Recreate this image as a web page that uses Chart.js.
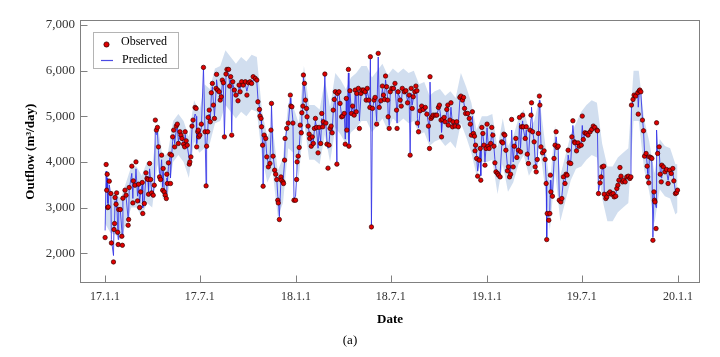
<!DOCTYPE html>
<html><head><meta charset="utf-8">
<script src="https://cdn.jsdelivr.net/npm/chart.js@4/dist/chart.umd.min.js"></script>
<style>html,body{margin:0;padding:0;background:#fff;}#wrap{width:720px;height:357px;position:relative;}</style>
</head><body><div id="wrap"><canvas id="c" width="720" height="357"></canvas></div>
<script>
// Days since 2017-01-01
const obsDays = [
0,2,3,4,5,6,8,11,12,16,17,18,19,21,22,24,25,26,29,32,33,34,38,40,44,45,46,51,53,54,
57,59,62,64,66,68,71,72,75,78,80,82,83,85,87,89,92,94,96,98,100,102,104,106,108,110,111,113,115,117,
118,119,121,124,125,127,129,131,133,136,138,140,143,145,147,150,152,153,155,157,161,162,164,166,168,172,174,175,177,178,179,
181,184,188,191,193,194,196,197,199,201,203,205,207,209,212,213,215,218,220,222,
224,226,228,231,233,236,238,240,242,244,247,250,254,256,258,261,264,268,271,274,
277,280,283,287,290,292,295,296,298,299,301,302,304,307,309,312,315,317,318,321,
324,326,328,330,331,333,336,337,340,341,343,344,347,350,354,355,357,359,361,364,
366,367,369,371,373,375,376,378,379,381,383,385,386,388,390,391,394,396,398,400,
402,404,407,409,412,414,416,417,420,422,424,426,428,430,432,434,436,438,440,443,
444,447,449,452,454,457,459,461,462,465,466,468,471,473,476,478,480,481,484,486,
489,491,494,497,499,501,504,506,507,509,511,514,516,519,522,524,527,530,532,534,
536,538,540,541,543,
545,548,551,554,557,558,560,564,566,568,572,575,578,581,583,585,587,589,592,594,
596,597,599,602,605,608,612,615,618,620,621,623,625,627,631,634,637,639,642,643,
645,648,650,653,655,656,659,661,664,665,669,672,675,678,680,683,685,687,689,693,
696,698,700,702,704,706,707,708,710,712,715,717,718,720,722,724,726,728,
730,732,734,737,739,741,743,745,747,750,752,755,758,760,762,764,766,769,771,773,
775,777,780,782,785,787,790,792,794,796,798,799,803,805,807,809,812,814,815,817,
820,822,824,826,828,830,831,833,836,839,841,843,844,845,848,850,851,852,855,858,
860,862,864,866,868,871,873,876,879,881,883,885,887,890,892,894,897,898,901,904,
906,910,912,914,917,920,923,927,930,933,936,940,941,943,946,948,950,953,954,957,
959,962,965,968,971,973,976,978,980,982,984,986,989,991,994,997,1000,1003,1005,1006,
1009,1011,1014,1018,1019,1021,1022,1024,1027,1029,1031,1034,1036,1037,1039,1040,1043,1045,1047,1049,
1050,1051,1053,1054,1056,1059,1061,1063,1064,1067,1070,1073,1076,1079,1082,1085,1087,1090,1092,1094
];
const observed = [
2344,3945,3382,3732,3002,3016,3579,3309,2226,1810,2520,2651,3221,3075,3323,2460,2191,2958,2958,2373,
2175,3206,3382,3272,2614,2739,3440,3908,3103,3586,3491,4002,3148,3513,3002,3345,3550,2871,3090,3762,
3638,3616,3294,3967,3616,3323,3272,3491,4917,4698,4757,4331,3673,3616,4149,3382,3857,3345,3272,3199,
3732,3528,3981,4171,3528,4149,4550,4698,4331,4786,4829,4406,4661,4588,4515,4390,4331,4661,4463,4368,
3952,4002,4112,4786,4917,5195,5173,4331,4661,4698,4550,
4588,4829,6072,4661,3476,4346,4661,4976,5136,4880,5516,5721,5246,4954,5612,5919,5575,5538,5355,5428,
5794,5735,4550,5926,6028,6028,5662,5868,4588,5757,5575,5465,5340,5684,5538,5757,5684,5757,5465,5735,
5757,5721,5868,5831,5794,5318,5151,5005,4954,4771,4368,3469,4588,4515,4112,3893,3967,4698,5283,4127,
3820,3732,3616,3162,3103,2739,3673,3601,3564,3528,4040,4515,4735,4852,5465,5224,5209,4852,3162,3162,
3616,4002,4127,4318,4807,4639,5078,5224,5904,5721,5355,5173,4989,4786,4610,4515,4346,4550,4406,4735,
4954,4757,4200,4757,4406,5063,4771,4880,5926,4852,4390,3865,4368,4735,4786,4639,5136,5370,5538,3952,
5502,5538,5283,4989,5005,5063,4390,5392,4698,6028,4346,5560,5063,5224,5026,5575,5099,5502,5612,4735,
5502,5575,5575,5538,5355,5612,5355,5195,6305,2577,5173,5355,5414,4829,6379,5195,5340,5662,5465,5370,
5882,5648,5355,4989,4735,
5538,5612,5612,5721,5136,4735,5538,5355,5224,5612,5538,5560,5296,5465,4149,5612,5173,5428,5538,5662,
5560,4852,4661,5122,5224,5151,5195,5048,4786,4296,5868,4954,4989,5026,5026,5026,5195,5246,4917,4550,
4932,4976,4880,5151,5246,4807,4917,5296,4771,4880,4786,4880,4771,5414,5443,5355,5414,5173,5063,5063,
4954,4829,4588,5099,4625,4566,4244,4368,4077,3689,4040,4296,3601,4757,4625,4368,3930,4296,
4829,4346,4296,4406,4757,4588,4346,3981,3784,3748,3711,3673,4441,4419,4610,4588,4258,3806,3893,3673,
3732,4932,3893,4346,4515,4099,4258,4976,4222,4771,5026,4771,4515,4771,4171,3967,4698,5026,5296,4661,
4441,3893,3784,4055,4625,5443,5246,4331,4200,4244,4055,3528,2300,2871,2724,2871,3711,3345,3250,4077,
4368,4661,4318,4346,3162,3125,3199,3673,3528,3732,3711,4258,3981,3967,4550,4902,4441,4419,4244,4419,
4346,4368,5005,4493,4639,4625,4588,4661,4713,4786,4757,4698,4683,3309,3543,3673,3893,3908,3294,3199,
3235,3309,3345,3294,3309,3235,3250,3418,3491,3601,3879,3689,3564,3601,3564,3673,3689,3638,3673,5246,
5370,5465,5443,5516,5048,5560,5575,5538,4917,4683,4127,4186,3908,3673,3543,4112,4099,4077,2285,3345,
3162,3125,2541,4858,4186,4331,3732,3564,3930,3893,3784,3835,3528,3820,3748,3857,3586,3309,3323,3382
];
const predicted = [
2500,3800,3400,3650,3100,3050,3500,3250,2300,1950,2600,2700,3150,3000,3250,2550,2300,2900,2950,2500,
2350,3150,3300,3250,2750,2800,3400,3750,3200,3550,3450,3850,3250,3500,3100,3350,3500,3000,3150,3700,
3600,3550,3350,3850,3600,3350,3300,3500,4700,4600,4650,4250,3750,3700,4050,3450,3800,3400,3350,3300,
3650,3550,3900,4100,3650,4100,4450,4600,4400,4700,4750,4450,4600,4550,4500,4400,4350,4600,4450,4350,
4050,4050,4150,4700,4850,5050,5000,4400,4600,4650,4550,
4600,4750,6060,4650,3500,4350,4650,4900,5050,4900,5450,5650,5300,5000,5550,5800,5600,5550,5400,5450,
5700,5700,4600,5850,5950,5950,5700,5800,4650,5700,5600,5500,5450,5650,5600,5700,5650,5700,5550,5700,
5700,5700,5800,5800,5750,5400,5200,5050,4950,4800,4400,3500,4550,4450,4150,3950,4000,4600,5250,4150,
3850,3750,3650,3250,3200,2800,3600,3600,3550,3550,4000,4450,4700,4800,5400,5250,5150,4900,3200,3250,
3650,3950,4100,4300,4700,4650,5000,5200,5850,5650,5400,5200,5000,4800,4650,4550,4400,4550,4450,4700,
4900,4750,4300,4700,4450,4950,4800,4850,5900,4850,4450,4300,4400,4700,4750,4650,5100,5300,5450,4000,
5450,5500,5300,5000,5050,5050,4500,5350,4750,5950,4400,5500,5100,5200,5050,5500,5150,5450,5550,4900,
5450,5550,5550,5500,5400,5550,5400,5250,6250,2600,5150,5350,5400,4900,6300,5200,5350,5600,5450,5400,
5800,5600,5400,5050,4800,
5500,5600,5600,5650,5200,4850,5500,5400,5300,5550,5500,5500,5350,5450,4200,5500,5250,5400,5500,5550,
5500,4950,4750,5100,5200,5150,5150,5050,4850,4450,5750,5000,5000,5000,5000,5050,5150,5200,4950,4650,
4900,4950,4900,5100,5200,4850,4900,5200,4800,4850,4800,4850,4800,5350,5400,5350,5350,5200,5100,5050,
4950,4850,4650,5000,4650,4550,4300,4350,4150,3800,4050,4250,3700,4650,4600,4400,4000,4300,
4750,4400,4300,4400,4650,4550,4350,4050,3850,3800,3750,3750,4350,4400,4550,4550,4300,3900,3900,3750,
3800,4700,4000,4300,4450,4150,4250,4850,4300,4700,4900,4750,4500,4700,4250,4050,4650,4950,5200,4700,
4450,4000,3850,4050,4550,5350,5200,4400,4250,4250,4050,3600,2350,2900,2800,2950,3600,3400,3300,4000,
4300,4550,4350,4300,3250,3200,3250,3600,3550,3700,3700,4150,4000,4000,4450,4800,4450,4400,4250,4400,
4350,4400,4800,4500,4600,4600,4600,4650,4700,4750,4750,4700,4650,3350,3550,3650,3850,3850,3350,3250,
3250,3300,3300,3300,3300,3280,3300,3400,3450,3550,3700,3650,3600,3600,3600,3650,3680,3650,3700,5200,
5350,5450,5450,5500,5200,5550,5550,5500,4950,4700,4200,4200,3950,3750,3600,4050,4050,4000,2350,3300,
3200,3150,3000,4700,4200,4250,3800,3650,3900,3900,3800,3800,3600,3800,3750,3800,3600,3350,3350,3380
];
// Uncertainty band edges
const bandDays = [
0,10,20,30,40,50,60,70,80,90,100,110,120,130,140,150,160,170,180,190,
200,210,220,230,240,250,260,270,280,290,300,310,320,330,340,350,360,370,380,390,
400,410,420,430,440,450,460,470,480,490,500,510,520,530,540,550,560,570,580,590,
600,610,620,630,640,650,660,670,680,690,700,710,720,730,740,750,760,770,780,790,
800,810,820,830,840,850,860,870,880,890,900,910,920,930,940,950,960,970,980,990,
1000,1010,1020,1030,1040,1050,1060,1070,1080,1090,1094
];
const bandLow = [
2650,2450,2400,2300,2650,3000,3000,2800,3100,3000,3950,3200,3300,4000,4150,4000,3650,4450,4200,4300,
4400,4850,4900,5250,5100,4950,5100,5000,5150,5100,4100,3550,3800,2800,3100,4300,4200,3650,4900,4050,
4050,3950,4600,4000,4750,4600,4400,4650,4750,4900,4900,4650,4800,4950,4700,4950,4850,4950,4850,4900,
4600,4650,4350,4450,4500,4350,4450,4300,4850,4550,4200,3700,4000,4000,4050,3300,3950,3350,3550,3950,
4150,3700,3900,4400,3500,2500,3800,2700,3150,3600,3850,3900,4050,4150,4100,3200,2700,2700,2900,3000,
3100,4900,4900,3850,3350,2650,3400,3250,3200,2850,2900
];
const bandHigh = [
3550,3350,3300,3200,3550,3900,3900,3700,4000,3900,4850,4100,4200,4900,5050,4900,4550,5350,5100,5700,
5600,6050,6100,6450,6300,6150,6300,6200,6350,6300,5100,4550,4800,3800,4100,5300,5200,4850,6100,5250,
5250,5150,5800,5200,5950,5800,5600,5850,5950,6100,6100,5850,6000,6150,5900,6050,5950,6050,5950,6000,
5700,5750,5450,5550,5600,5450,5550,5400,5950,5650,5300,4700,5000,5000,5050,4300,4950,4350,4550,4950,
5150,4700,4900,5400,4500,3500,4800,3700,4150,4600,4850,5100,5250,5350,5300,4400,3900,3900,4100,4200,
4300,6000,6000,4950,4450,3750,4500,4350,4300,3950,3950
];
const xTickDays = [0, 181, 365, 546, 730, 911, 1095];
const xTickLabels = ['17.1.1', '17.7.1', '18.1.1', '18.7.1', '19.1.1', '19.7.1', '20.1.1'];
const yTicks = [2000, 3000, 4000, 5000, 6000, 7000];

if (obsDays.length !== observed.length || obsDays.length !== predicted.length)
  throw new Error('len mismatch ' + obsDays.length + ' ' + observed.length + ' ' + predicted.length);
if (bandDays.length !== bandLow.length || bandDays.length !== bandHigh.length)
  throw new Error('band len mismatch ' + bandDays.length + ' ' + bandLow.length + ' ' + bandHigh.length);

const SERIF = '"Liberation Serif","Times New Roman",Times,serif';
Chart.defaults.font.family = SERIF;

const obsPts = obsDays.map((d, i) => ({x: d, y: observed[i]}));
const predPts = obsDays.map((d, i) => ({x: d, y: predicted[i]}));
const hiPts = bandDays.map((d, i) => ({x: d, y: bandHigh[i]}));
const loPts = bandDays.map((d, i) => ({x: d, y: bandLow[i]}));

const decor = {
  id: 'decor',
  afterDraw(chart) {
    const {ctx, chartArea: a, scales: {x, y}} = chart;
    ctx.save();
    ctx.strokeStyle = '#808080';
    ctx.lineWidth = 1;
    const L = Math.round(a.left) + 0.5, R = Math.round(a.right) - 0.5;
    const T = Math.round(a.top) + 0.5, B = Math.round(a.bottom) - 0.5;
    ctx.strokeRect(L, T, R - L, B - T);
    ctx.beginPath();
    xTickDays.forEach(v => {
      const px = Math.round(x.getPixelForValue(v)) + 0.5;
      ctx.moveTo(px, B); ctx.lineTo(px, B - 7);
    });
    yTicks.forEach(v => {
      const py = Math.round(y.getPixelForValue(v)) + 0.5;
      ctx.moveTo(L, py); ctx.lineTo(L + 7, py);
    });
    ctx.stroke();
    // legend
    ctx.fillStyle = '#ffffff';
    ctx.fillRect(93.5, 32.5, 85, 36);
    ctx.strokeStyle = '#b4b4b4';
    ctx.strokeRect(93.5, 32.5, 85, 36);
    ctx.beginPath();
    ctx.arc(106.5, 44.5, 2.6, 0, Math.PI * 2);
    ctx.fillStyle = '#e00000';
    ctx.fill();
    ctx.strokeStyle = '#3a0000';
    ctx.lineWidth = 0.8;
    ctx.stroke();
    ctx.beginPath();
    ctx.strokeStyle = 'rgba(55,55,225,0.9)';
    ctx.lineWidth = 1.2;
    ctx.moveTo(101, 60.5); ctx.lineTo(113, 60.5);
    ctx.stroke();
    ctx.fillStyle = '#000';
    ctx.font = '12px ' + SERIF;
    ctx.textBaseline = 'middle';
    ctx.textAlign = 'left';
    ctx.fillText('Observed', 121, 42);
    ctx.fillText('Predicted', 122, 59.5);
    ctx.restore();
  }
};

new Chart(document.getElementById('c'), {
  type: 'line',
  data: {
    datasets: [
      {label: 'Observed', data: obsPts, showLine: false, pointRadius: 2.2, pointHoverRadius: 2.2,
       pointBackgroundColor: '#e00000', pointBorderColor: '#3a0000', pointBorderWidth: 0.7},
      {label: 'Predicted', data: predPts, borderColor: 'rgba(50,50,230,0.85)', borderWidth: 1,
       pointRadius: 0, tension: 0, fill: false},
      {label: 'upper', data: hiPts, borderWidth: 0, pointRadius: 0, fill: '+1',
       backgroundColor: 'rgba(172,194,226,0.55)', borderColor: 'rgba(0,0,0,0)', tension: 0},
      {label: 'lower', data: loPts, borderWidth: 0, pointRadius: 0, fill: false,
       borderColor: 'rgba(0,0,0,0)', tension: 0}
    ]
  },
  options: {
    responsive: false,
    animation: false,
    devicePixelRatio: 1,
    layout: {padding: {top: 20, right: 20, left: 0, bottom: 0}},
    plugins: {
      legend: {display: false},
      tooltip: {enabled: false},
      title: {display: true, position: 'bottom', text: '(a)', color: '#000',
              font: {size: 13, weight: 'normal', family: SERIF}, padding: {top: 0, bottom: 9}}
    },
    scales: {
      x: {
        type: 'linear', min: -48, max: 1137,
        afterBuildTicks: s => { s.ticks = xTickDays.map(v => ({value: v})); },
        afterFit: s => { s.height = 49; },
        ticks: {callback: (v, i) => xTickLabels[i], color: '#333', font: {size: 12}, padding: 6,
                maxRotation: 0, autoSkip: false},
        grid: {display: false, drawTicks: false}, border: {display: false},
        title: {display: true, text: 'Date', color: '#000', font: {size: 13, weight: 'bold'},
                padding: {top: 0, bottom: 5}}
      },
      y: {
        min: 1340, max: 7110,
        afterBuildTicks: s => { s.ticks = yTicks.map(v => ({value: v})); },
        afterFit: s => { s.width = 80; },
        ticks: {callback: v => v.toLocaleString('en-US'), color: '#333', font: {size: 13}, padding: 5},
        grid: {display: false, drawTicks: false}, border: {display: false},
        title: {display: true, text: 'Outflow (m³/day)', color: '#000', font: {size: 13, weight: 'bold'},
                padding: {top: 23, bottom: 0}}
      }
    }
  },
  plugins: [decor]
});
</script></body></html>
